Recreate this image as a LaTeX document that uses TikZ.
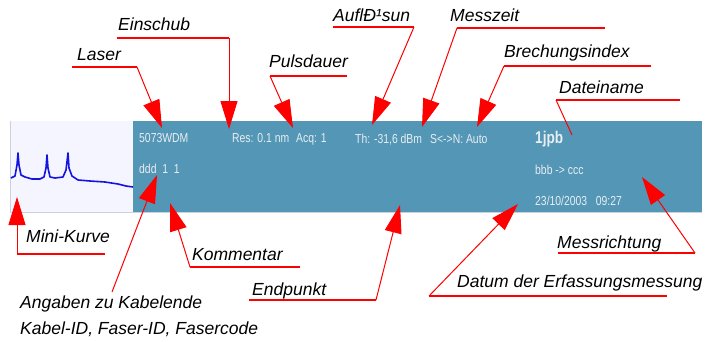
\documentclass[tikz,border=0pt]{standalone}
\usepackage{fontspec}
\setmainfont{Liberation Sans}
\newfontfamily\panelfont[FakeStretch=0.8]{Liberation Sans}
\usetikzlibrary{arrows.meta}
\definecolor{PanelBlue}{HTML}{5496B6}
\definecolor{PanelText}{HTML}{E8EEF2}
\definecolor{MarkRed}{HTML}{FF0000}
\definecolor{CurveBlue}{HTML}{1414E0}
\definecolor{EdgeGray}{HTML}{C8D2DA}

\begin{document}
\begin{tikzpicture}[x=1pt, y=-1pt,
  tag/.style={anchor=base west, inner sep=0, font=\fontsize{17.5}{20}\selectfont\itshape},
  readout/.style={anchor=base west, inner sep=0, text=PanelText, font=\panelfont\fontsize{13}{15}\selectfont},
  uline/.style={draw=MarkRed, line width=2pt},
  leader/.style={draw=MarkRed, line width=1pt, -{Triangle[length=28pt,width=17pt]}}]
\useasboundingbox (0,0) rectangle (720,341);

% Trace window
\node[fill=PanelBlue, anchor=north west, inner sep=0, minimum width=569pt, minimum height=91pt] (panel) at (133,121) {};
\node[fill=white!96!blue, anchor=north west, inner sep=0, minimum width=123pt, minimum height=91pt] (minibox) at (10,121) {};
\draw[EdgeGray] (minibox.north west) -- (minibox.south west);
\draw[EdgeGray, line width=1.5pt] (minibox.south west) -- (panel.south east);
\draw[CurveBlue, line width=1.6pt, line join=round]
  (11,178) -- (15,176) -- (17,165) -- (18,153) -- (19,165) -- (21,175) -- (25,177) -- (32,179) -- (40,179)
  -- (44,177) -- (46,168) -- (47,155) -- (48,168) -- (50,177) -- (55,178) -- (63,177) -- (66,170) -- (68,153)
  -- (69,168) -- (72,176) -- (78,180) -- (90,181) -- (105,182) -- (118,184) -- (126,186) -- (133,187);

% Readouts
\node[readout] (laserval) at (139,142) {5073WDM};
\node[readout] (resval) at (232,142) {Res: 0.1 nm};
\node[readout] (acqval) at (296,142) {Acq: 1};
\node[readout] (thval) at (355,143) {Th: -31,6 dBm};
\node[readout] (snval) at (430,143) {S<->N: Auto};
\node[readout, font=\panelfont\bfseries\fontsize{17}{19}\selectfont] (fileval) at (535,143) {1jpb};
\node[readout] (cableval) at (139,173) {ddd\ \ 1\ \ 1};
\node[readout] (dirval) at (535,174) {bbb -> ccc};
\node[readout] (dateval) at (535,205) {23/10/2003\ \ \ 09:27};

% Callouts above
\node[tag] (laser) at (77,60) {Laser};
\coordinate (laserL) at (72,67); \coordinate (laserR) at (137,67); \coordinate (lasertip) at (162,128);
\draw[uline] (laserL) -- (laserR);
\draw[leader] (laserR) -- (lasertip);

\node[tag] (einschub) at (118,30) {Einschub};
\coordinate (einL) at (117,38); \coordinate (einR) at (229,38); \coordinate (eintip) at (229,129);
\draw[uline] (einL) -- (einR);
\draw[leader] (einR) -- (eintip);

\node[tag] (puls) at (269,67) {Pulsdauer};
\coordinate (pulsL) at (270,76); \coordinate (pulsR) at (347,76); \coordinate (pulstip) at (293,128);
\draw[uline] (pulsL) -- (pulsR);
\draw[leader] (pulsL) -- (pulstip);

\node[tag] (aufl) at (333,21) {AuflÐ¹sun};
\coordinate (auflL) at (333,27); \coordinate (auflR) at (414,27); \coordinate (aufltip) at (372,125);
\draw[uline] (auflL) -- (auflR);
\draw[leader] (auflR) -- (aufltip);

\node[tag] (messzeit) at (450,21) {Messzeit};
\coordinate (mzL) at (457,28); \coordinate (mzR) at (605,28); \coordinate (mztip) at (422,127);
\draw[uline] (mzL) -- (mzR);
\draw[leader] (mzL) -- (mztip);

\node[tag] (brech) at (504,57) {Brechungsindex};
\coordinate (brL) at (504,66); \coordinate (brR) at (651,66); \coordinate (brtip) at (477,127);
\draw[uline] (brL) -- (brR);
\draw[leader] (brL) -- (brtip);

\node[tag] (datei) at (559,93) {Dateiname};
\coordinate (dnL) at (556,100); \coordinate (dnR) at (680,100); \coordinate (dnend) at (572,135);
\draw[uline] (dnL) -- (dnR);
\draw[MarkRed, line width=1pt] (dnL) -- (dnend);

% Callouts below
\node[tag] (mini) at (26,242) {Mini-Kurve};
\coordinate (miniR) at (105,254); \coordinate (miniL) at (17,254); \coordinate (minitip) at (17,197);
\draw[uline] (miniR) -- (miniL);
\draw[leader] (miniL) -- (minitip);

\node[tag] (komm) at (192,260) {Kommentar};
\coordinate (kmL) at (190,267); \coordinate (kmR) at (300,267); \coordinate (kmtip) at (170,203);
\draw[uline] (kmL) -- (kmR);
\draw[leader] (kmL) -- (kmtip);

\node[tag] (kabel) at (20,308) {Angaben zu Kabelende};
\node[tag] (kabelids) at (20,334) {Kabel-ID, Faser-ID, Fasercode};
\coordinate (kbfoot) at (112,292); \coordinate (kbtip) at (157,175);
\draw[leader] (kbfoot) -- (kbtip);

\node[tag] (endp) at (252,295) {Endpunkt};
\coordinate (epL) at (249,300); \coordinate (epR) at (376,300); \coordinate (eptip) at (400,205);
\draw[uline] (epL) -- (epR);
\draw[leader] (epR) -- (eptip);

\node[tag] (datum) at (457,287) {Datum der Erfassungsmessung};
\coordinate (dtL) at (429,296); \coordinate (dtR) at (667,296); \coordinate (dttip) at (518,204);
\draw[uline] (dtL) -- (dtR);
\draw[leader] (dtL) -- (dttip);

\node[tag] (richt) at (557,248) {Messrichtung};
\coordinate (mrL) at (558,253); \coordinate (mrR) at (695,253); \coordinate (mrtip) at (642,177);
\draw[uline] (mrL) -- (mrR);
\draw[leader] (mrR) -- (mrtip);
\end{tikzpicture}
\end{document}
